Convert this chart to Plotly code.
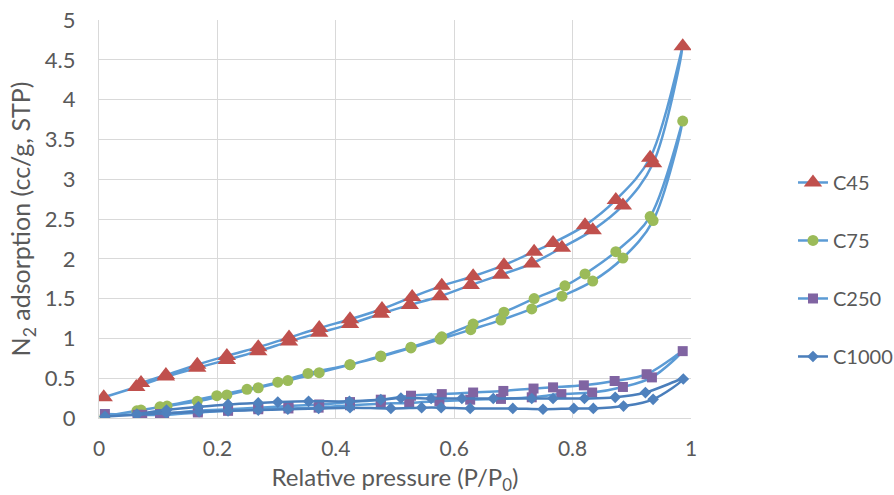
import plotly.graph_objects as go

# Relative pressure (P/P0) and adsorbed volume (cc/g, STP) for each sample.
# Each isotherm is drawn as one trace: adsorption branch up, desorption branch back down.

c45_ads_x = [0.008, 0.063, 0.113, 0.166, 0.216, 0.269, 0.321, 0.372, 0.424, 0.476,
             0.525, 0.576, 0.628, 0.679, 0.731, 0.782, 0.834, 0.885, 0.936, 0.986]
c45_ads_y = [0.26, 0.39, 0.52, 0.63, 0.73, 0.84, 0.96, 1.07, 1.18, 1.31,
             1.42, 1.53, 1.67, 1.80, 1.94, 2.14, 2.36, 2.67, 3.20, 4.67]
c45_des_x = [0.931, 0.873, 0.821, 0.767, 0.735, 0.684, 0.632, 0.579, 0.529, 0.478,
             0.424, 0.372, 0.321, 0.269, 0.216, 0.166, 0.113, 0.071]
c45_des_y = [3.27, 2.74, 2.42, 2.20, 2.09, 1.92, 1.78, 1.66, 1.52, 1.37,
             1.24, 1.13, 1.01, 0.89, 0.78, 0.67, 0.54, 0.44]

c75_ads_x = [0.010, 0.064, 0.115, 0.166, 0.216, 0.269, 0.319, 0.372, 0.424, 0.476,
             0.527, 0.576, 0.628, 0.679, 0.731, 0.782, 0.834, 0.885, 0.936, 0.986]
c75_ads_y = [0.02, 0.09, 0.15, 0.21, 0.29, 0.38, 0.47, 0.57, 0.67, 0.77,
             0.88, 0.99, 1.11, 1.23, 1.37, 1.53, 1.72, 2.01, 2.48, 3.73]
c75_des_x = [0.931, 0.873, 0.821, 0.787, 0.735, 0.684, 0.632, 0.579, 0.527, 0.476,
             0.424, 0.353, 0.302, 0.250, 0.199, 0.103, 0.071]
c75_des_y = [2.53, 2.09, 1.81, 1.66, 1.50, 1.33, 1.18, 1.02, 0.89, 0.78,
             0.67, 0.56, 0.45, 0.36, 0.28, 0.14, 0.10]

c250_ads_x = [0.010, 0.065, 0.110, 0.167, 0.218, 0.269, 0.320, 0.371, 0.424, 0.476,
              0.524, 0.575, 0.627, 0.679, 0.731, 0.781, 0.833, 0.885, 0.934, 0.986]
c250_ads_y = [0.05, 0.04, 0.04, 0.07, 0.09, 0.11, 0.12, 0.13, 0.16, 0.18,
              0.19, 0.21, 0.23, 0.24, 0.26, 0.30, 0.32, 0.39, 0.51, 0.84]
c250_des_x = [0.925, 0.871, 0.819, 0.767, 0.734, 0.683, 0.632, 0.579, 0.527, 0.476,
              0.424, 0.372, 0.320, 0.269, 0.218, 0.167, 0.103, 0.073]
c250_des_y = [0.55, 0.465, 0.41, 0.385, 0.37, 0.34, 0.32, 0.30, 0.28, 0.23,
              0.20, 0.17, 0.15, 0.13, 0.11, 0.09, 0.05, 0.04]

c1000_ads_x = [0.010, 0.064, 0.114, 0.169, 0.218, 0.269, 0.319, 0.371, 0.424, 0.493,
               0.545, 0.578, 0.627, 0.699, 0.750, 0.802, 0.835, 0.886, 0.936, 0.987]
c1000_ads_y = [0.02, 0.04, 0.06, 0.08, 0.09, 0.10, 0.11, 0.12, 0.13, 0.12,
               0.13, 0.13, 0.12, 0.12, 0.11, 0.12, 0.12, 0.15, 0.235, 0.49]
c1000_des_x = [0.923, 0.872, 0.820, 0.767, 0.731, 0.666, 0.613, 0.561, 0.510, 0.476,
               0.423, 0.354, 0.302, 0.269, 0.218, 0.168, 0.114, 0.064]
c1000_des_y = [0.32, 0.26, 0.245, 0.245, 0.245, 0.245, 0.245, 0.245, 0.25, 0.23,
               0.21, 0.21, 0.20, 0.19, 0.17, 0.14, 0.10, 0.05]

series = [
    ("C45", c45_ads_x + c45_des_x, c45_ads_y + c45_des_y,
     "#5B9BD5", dict(symbol="triangle-up", size=16, color="#C0504D")),
    ("C75", c75_ads_x + c75_des_x, c75_ads_y + c75_des_y,
     "#5B9BD5", dict(symbol="circle", size=11, color="#9BBB59")),
    ("C250", c250_ads_x + c250_des_x, c250_ads_y + c250_des_y,
     "#5B9BD5", dict(symbol="square", size=10, color="#8064A2")),
    ("C1000", c1000_ads_x + c1000_des_x, c1000_ads_y + c1000_des_y,
     "#4A7EBB", dict(symbol="diamond", size=9, color="#4F81BD")),
]

font_family = "Lato, 'Open Sans', sans-serif"
text_color = "#595959"
grid_color = "#D9D9D9"

fig = go.Figure()
for i, (name, xs, ys, line_color, marker) in enumerate(series):
    fig.add_trace(go.Scatter(
        x=xs, y=ys, name=name, mode="lines+markers",
        line=dict(color=line_color, width=2.5, shape="spline", smoothing=1.0),
        marker=dict(line=dict(width=0), **marker),
        legendgroup=f"g{i}",
    ))

fig.update_layout(
    width=894, height=495,
    margin=dict(l=99, r=203, t=20, b=77, autoexpand=False),
    paper_bgcolor="white", plot_bgcolor="white",
    font=dict(family=font_family, size=22, color=text_color),
    showlegend=True,
    legend=dict(
        xref="container", yref="container",
        x=0.887, xanchor="left", y=0.4556, yanchor="middle",
        traceorder="grouped", tracegroupgap=29,
        font=dict(size=20, color=text_color),
        bgcolor="rgba(0,0,0,0)",
    ),
    xaxis=dict(
        range=[0, 1], dtick=0.2, tick0=0, automargin=False,
        showgrid=True, gridcolor=grid_color, gridwidth=1.3,
        zeroline=False, showline=True, linecolor=grid_color, linewidth=1.3,
        ticks="", ticklabelstandoff=12,
        tickfont=dict(size=21, color=text_color),
        title=dict(text="Relative pressure (P/P<sub>0</sub>)", standoff=12,
                   font=dict(size=24, color=text_color)),
    ),
    yaxis=dict(
        range=[0, 5], dtick=0.5, tick0=0, automargin=False,
        showgrid=True, gridcolor=grid_color, gridwidth=1.3,
        zeroline=False, showline=True, linecolor=grid_color, linewidth=1.3,
        ticks="", ticklabelstandoff=18,
        tickfont=dict(size=22, color=text_color),
        title=dict(text="N<sub>2</sub> adsorption (cc/g, STP)", standoff=6,
                   font=dict(size=25, color=text_color)),
    ),
)

fig.write_html("out.html")
